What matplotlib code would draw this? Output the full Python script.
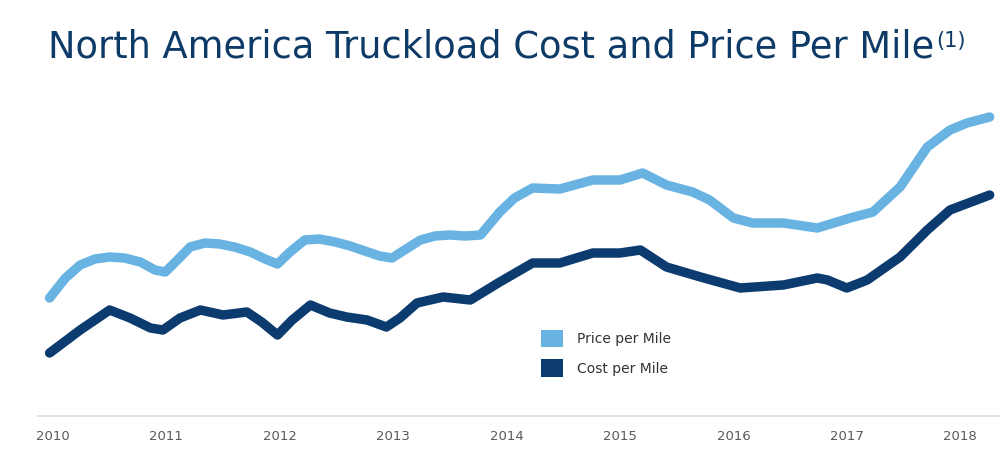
import matplotlib
matplotlib.use("Agg")
import matplotlib.pyplot as plt
from matplotlib.patches import Patch

# Price per mile (relative index; no y axis in the original)
price_years = [2009.97, 2010.11, 2010.24, 2010.37, 2010.50, 2010.63, 2010.77, 2010.90, 2010.99,
               2011.08, 2011.21, 2011.34, 2011.47, 2011.60, 2011.74, 2011.87, 2011.98,
               2012.09, 2012.22, 2012.35, 2012.49, 2012.62, 2012.75, 2012.88, 2012.99,
               2013.10, 2013.24, 2013.37, 2013.50, 2013.63, 2013.77, 2013.94,
               2014.07, 2014.23, 2014.47, 2014.76, 2015.00, 2015.20, 2015.41, 2015.64, 2015.79,
               2016.00, 2016.17, 2016.44, 2016.74, 2017.03, 2017.23, 2017.47, 2017.71, 2017.91,
               2018.06, 2018.26]
price = [118, 138, 151, 157, 159, 158, 154, 146, 144,
         154, 169, 173, 172, 169, 164, 157, 152,
         164, 176, 177, 174, 170, 165, 160, 158,
         166, 176, 180, 181, 180, 181, 204,
         218, 228, 227, 236, 236, 243, 231, 224, 216,
         198, 193, 193, 188, 198, 204, 229, 269, 286,
         293, 299]

# Cost per mile (same relative scale)
cost_years = [2009.97, 2010.24, 2010.50, 2010.68, 2010.86, 2010.97,
              2011.12, 2011.30, 2011.50, 2011.71, 2011.84, 2011.98,
              2012.11, 2012.27, 2012.44, 2012.59, 2012.77, 2012.94,
              2013.06, 2013.21, 2013.44, 2013.68, 2013.94,
              2014.23, 2014.47, 2014.76, 2015.00, 2015.18, 2015.41, 2015.71,
              2016.06, 2016.44, 2016.74, 2016.83, 2017.00, 2017.18, 2017.47,
              2017.71, 2017.91, 2018.26]
cost = [63, 86, 106, 98, 88, 86,
        98, 106, 101, 104, 94, 81,
        96, 111, 103, 99, 96, 89,
        98, 113, 119, 116, 134,
        153, 153, 163, 163, 166, 149, 139,
        128, 131, 138, 136, 128, 136, 159,
        186, 206, 221]

tick_years = [2010, 2011, 2012, 2013, 2014, 2015, 2016, 2017, 2018]

light_blue = "#69b3e3"
dark_blue = "#0c3b6f"

fig = plt.figure(figsize=(10, 4.62), dpi=100)
ax = fig.add_axes([0.038, 46 / 462, 0.962, 316 / 462])

ax.plot(price_years, price, color=light_blue, lw=6.8, solid_capstyle="round", solid_joinstyle="round")
ax.plot(cost_years, cost, color=dark_blue, lw=6.8, solid_capstyle="round", solid_joinstyle="round")

# x axis: year labels only, light baseline, no y axis
ax.set_xlim(2009.868, 2018.351)
ax.set_ylim(0, 316)
ax.set_xticks(tick_years)
ax.set_xticklabels([str(y) for y in tick_years], color="#5a5a5a", fontsize=9.5)
ax.tick_params(axis="x", length=0, pad=10)
ax.set_yticks([])
for side in ["top", "right", "left"]:
    ax.spines[side].set_visible(False)
ax.spines["bottom"].set_color("#dddddd")
ax.spines["bottom"].set_linewidth(1.2)

# Legend with square swatches
handles = [Patch(facecolor=light_blue, edgecolor="none", label="Price per Mile"),
           Patch(facecolor=dark_blue, edgecolor="none", label="Cost per Mile")]
fig.legend(handles=handles, loc="upper left", bbox_to_anchor=(0.535, 1 - 324 / 462),
           frameon=False, fontsize=10, handlelength=1.6, handleheight=1.6,
           handletextpad=1.0, labelspacing=0.85, borderaxespad=0, labelcolor="#333333")

# Title with superscript footnote marker
title = fig.text(0.048, 1 - 57 / 462, "North America Truckload Cost and Price Per Mile",
                 fontsize=26.5, color="#0d3a66", va="baseline", ha="left")
fig.canvas.draw()
bb = title.get_window_extent()
fig.text(bb.x1 / fig.bbox.width + 0.002, 1 - 47 / 462, "(1)", fontsize=15,
         color="#0d3a66", va="baseline", ha="left")

fig.savefig("out.png", dpi=100)
